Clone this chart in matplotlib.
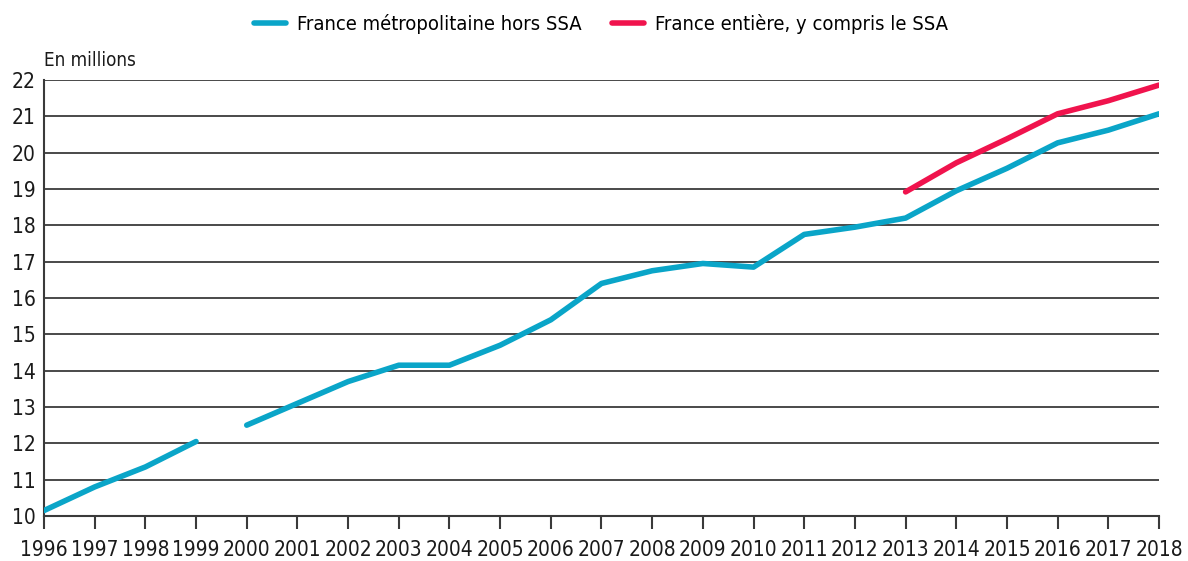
import matplotlib.pyplot as plt
from matplotlib import font_manager

years = list(range(1996, 2019))
metro = [10.15, 10.8, 11.35, 12.05, 12.5, 13.1, 13.7, 14.15, 14.15, 14.7, 15.4,
         16.4, 16.75, 16.95, 16.85, 17.75, 17.95, 18.2, 18.95, 19.57, 20.27, 20.62, 21.07]
years_full = list(range(2013, 2019))
full = [18.92, 19.72, 20.38, 21.07, 21.43, 21.86]
break_after = 1999  # series break between 1999 and 2000

# look for a condensed face, like the original's typeface
narrow = [f for f in font_manager.fontManager.ttflist
          if ('Condensed' in f.name or 'Narrow' in f.name
              or f.stretch in ('condensed', 'semi-condensed', 'extra-condensed'))
          and f.style == 'normal' and f.weight in (400, 'normal', 'regular')]
if narrow:
    fp = font_manager.FontProperties(fname=narrow[0].fname)
    size = 15
else:
    fp = font_manager.FontProperties(family='Roboto')
    size = 13

blue = '#0aa5c8'
red = '#f0134d'
dark = '#1a1a1a'

fig = plt.figure(figsize=(11.88, 5.61), dpi=100)
ax = fig.add_axes([44/1188, 45/561, 1115/1188, 436/561])

i = years.index(break_after) + 1
ax.plot(years[:i], metro[:i], color=blue, lw=4, solid_capstyle='round',
        label='France métropolitaine hors SSA', zorder=3)
ax.plot(years[i:], metro[i:], color=blue, lw=4, solid_capstyle='round', zorder=3)
ax.plot(years_full, full, color=red, lw=4, solid_capstyle='round',
        label='France entière, y compris le SSA', zorder=3)

ax.set_xlim(1996, 2018)
ax.set_ylim(10, 22)
ax.set_xticks(years)
ax.set_yticks(range(10, 23))
ax.grid(axis='y', color='#3a3a3a', lw=1.3)
ax.set_axisbelow(True)
for s in ['top', 'right']:
    ax.spines[s].set_visible(False)
for s in ['left', 'bottom']:
    ax.spines[s].set_color('#3a3a3a')
    ax.spines[s].set_linewidth(1.5)
ax.tick_params(axis='x', length=9, width=1.5, color='#3a3a3a', pad=8)
ax.tick_params(axis='y', length=0, pad=6)
for lab in ax.get_xticklabels() + ax.get_yticklabels():
    lab.set_fontproperties(fp)
    lab.set_fontsize(size)
    lab.set_color(dark)

fig.text(44/1188, 1 - 61/561, 'En millions', fontproperties=fp, fontsize=size - 1.5,
         color=dark, va='center')
lp = fp.copy()
lp.set_size(size - 0.5)
fig.legend(loc='center', bbox_to_anchor=(0.506, 1 - 24/561), ncol=2, frameon=False,
           prop=lp, handlelength=1.6, columnspacing=1.5, handletextpad=0.55)

fig.savefig('out.png', dpi=100)
